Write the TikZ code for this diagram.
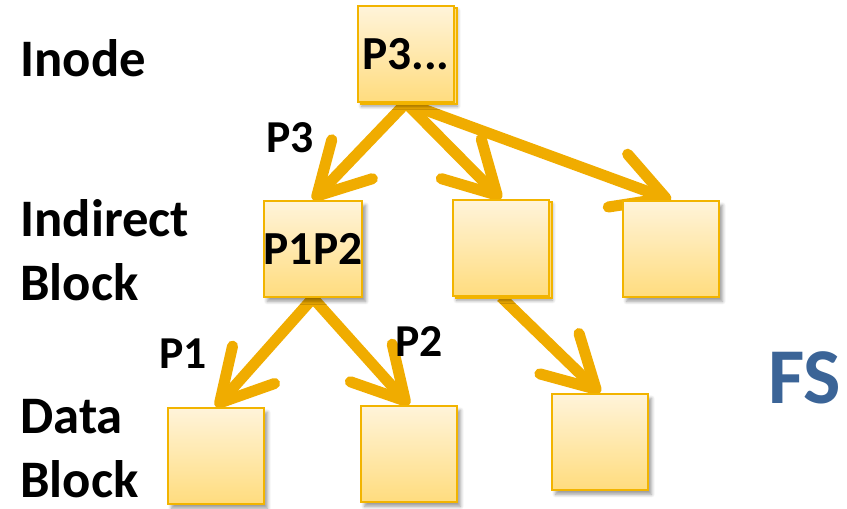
\documentclass[tikz,border=0pt]{standalone}
\usepackage{fontspec}
\setmainfont{Carlito}
\usetikzlibrary{arrows.meta, shadows, shadows.blur, backgrounds}
\definecolor{boxtop}{HTML}{FFF4DA}
\definecolor{boxbot}{HTML}{FFDC7E}
\definecolor{boxline}{HTML}{F2B400}
\definecolor{ptrc}{HTML}{F0AC00}
\definecolor{fsblue}{HTML}{3B6497}
\tikzset{
    blk/.style={draw=boxline, line width=1.1pt, top color=boxtop, bottom color=boxbot,
        minimum size=1.92cm, inner sep=0pt, font=\fontsize{27}{30}\selectfont\bfseries,
        blur shadow={shadow xshift=2pt, shadow yshift=-2.5pt, shadow blur steps=6, shadow opacity=40}},
    stk/.style={blk, copy shadow={shadow xshift=1.7pt, shadow yshift=-1.2pt, draw=boxline, fill=boxbot}},
    lvl/.style={anchor=base west, align=left, inner sep=0pt, font=\fontsize{30}{36}\selectfont\bfseries},
    ptr/.style={draw=ptrc, line width=6.3pt, -{Straight Barb[length=29pt, width=32pt, round]}},
    plbl/.style={inner sep=0pt, font=\fontsize{26}{28}\selectfont\bfseries}
}
\begin{document}
\begin{tikzpicture}[x=0.02cm, y=-0.02cm]
    \useasboundingbox (0,0) rectangle (847,509);

    % level names (base = last line)
    \node[lvl] (tinode) at (20,77) {Inode};
    \node[lvl] (tind) at (20,300) {Indirect\\Block};
    \node[lvl] (tdata) at (20,497) {Data\\Block};
    \node[inner sep=0pt, text=fsblue, font=\fontsize{45}{50}\selectfont\bfseries] (fs) at (805,378) {FS};

    % blocks
    \node[stk] (inode) at (406,54) {P3...};
    \node[blk] (ind1) at (313,249) {P1P2};
    \node[stk] (ind2) at (501,248) {};
    \node[blk] (ind3) at (671,249) {};
    \node[blk] (dat1) at (216,456) {};
    \node[blk] (dat2) at (409,454) {};
    \node[blk] (dat3) at (600,442) {};

    % pointers, kept under the blocks
    \begin{scope}[on background layer]
        \draw[ptr] (inode.south) -- (ind1.north);
        \draw[ptr] (inode.south) -- (ind2.north);
        \draw[ptr] (inode.south) -- (ind3.north);
        \draw[ptr] (ind1.south) -- (dat1.north);
        \draw[ptr] (ind1.south) -- (dat2.north);
        \draw[ptr] (ind2.south) -- (dat3.north);
    \end{scope}

    \node[plbl] (p3) at (290,138) {P3};
    \node[plbl] (p1) at (183,354) {P1};
    \node[plbl] (p2) at (419,342) {P2};
\end{tikzpicture}
\end{document}
